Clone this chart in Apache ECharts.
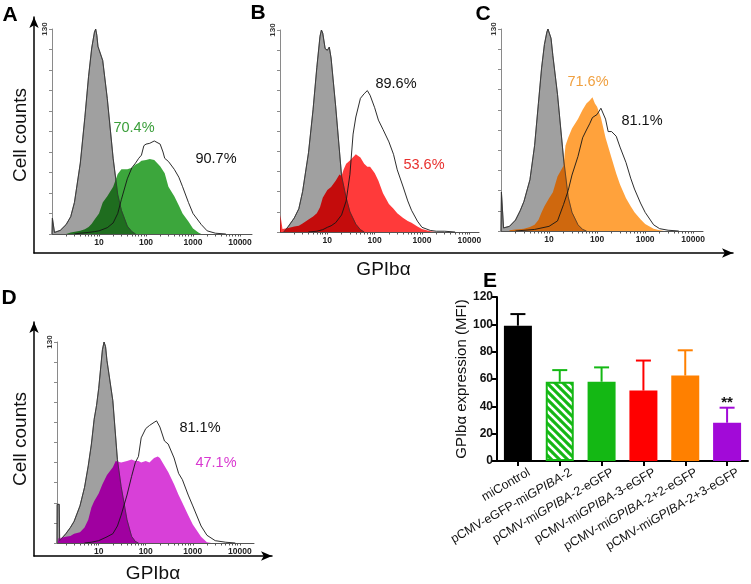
<!DOCTYPE html>
<html><head><meta charset="utf-8">
<script src="https://cdn.jsdelivr.net/npm/echarts@6/dist/echarts.min.js"></script>
<style>html,body{margin:0;padding:0;background:#fff}#c{width:751px;height:584px}</style>
</head><body><div id="c"></div>
<script>
// ---------------- DATA ----------------
// Flow cytometry histograms: [fluorescence (GPIbα), cell count]
const histA_control = [[1,0],[1.02,10],[1.1,10],[1.13,1],[1.5,2.3],[2,6],[2.5,11],[3,20],[4,45],[5,74],[6,100],[7,118],[8,128],[8.5,130],[9,126],[9.5,119],[10,117],[11,116],[12,110],[15,86],[20,48],[25,25],[30,15],[40,5],[50,1.5],[60,0]];
const histA_sample  = [[2,0],[2.5,1],[4,2],[5,3],[6,4.5],[7,6.5],[8,9],[10,13],[12,20],[15,24],[20,30],[22,31],[25,38],[30,41],[40,41],[50,42],[60,44],[70,45],[80,46.5],[100,47],[120,47.5],[150,47],[200,43],[250,38.5],[300,30],[400,24],[500,18],[600,13],[800,8],[1000,3.5],[1300,1],[1500,0]];
const histA_open    = [[3,0],[4,0.5],[6,1],[8,1.5],[10,2],[15,4],[20,7],[25,13],[30,22],[40,35],[50,42],[60,45],[70,48],[80,50],[90,56],[100,57],[120,57.5],[150,59],[200,57],[230,52],[250,48],[300,46],[400,41],[500,36],[600,30],[800,20],[1000,13],[1500,6],[2000,2],[3000,0.5],[5000,0]];

const histB_control = [[1.2,0],[1.5,3.6],[2,9],[2.5,15],[3,26],[4,51],[5,79],[6,106],[7,126],[7.5,130],[8,128],[9,118],[10,117],[11,119],[12,112],[15,81],[20,36],[25,22],[30,13],[40,5],[50,1.5],[60,0]];
const histB_sample  = [[1,0],[1.02,11],[1.1,11],[1.13,2],[1.5,2.5],[2,3.5],[2.5,4],[3,5.5],[4,8],[5,10],[6,12],[7,16],[8,22],[10,27],[12,29],[15,33],[18,37],[20,36],[22,40],[25,44],[30,46],[40,50],[50,48],[60,44],[70,42],[80,42],[100,38],[120,33],[150,25],[200,18],[250,15],[300,12],[400,9],[500,7],[600,6],[800,3.5],[1000,2],[1500,0.5],[2000,0]];
const histB_open    = [[4,0],[6,0.5],[8,1.5],[10,3],[12,4],[15,6],[20,11],[25,20],[30,37],[35,63],[40,74],[50,86],[60,89],[70,91],[80,88],[100,80],[120,72],[150,66],[200,58],[250,50],[300,40],[400,29],[500,20],[600,14],[800,7],[1000,3],[1500,1],[2000,0.5],[3000,0.5],[5000,0]];

const histC_control = [[1,0],[1.02,25],[1.1,25],[1.13,2],[1.5,3],[2,7],[2.5,13],[3,19],[4,33],[5,55],[6,82],[7,105],[8,120],[9,128],[9.5,130],[10,129],[11,124],[12,113],[15,88],[20,47],[25,22],[30,12],[40,4],[50,1],[60,0]];
const histC_sample  = [[1.5,0.5],[2,1],[3,1.5],[4,2.5],[5,4],[6,7],[7,12],[8,16],[10,21],[12,25],[15,35],[20,42],[22,55],[25,60],[30,66],[40,72],[50,78],[60,82],[70,84],[80,86],[90,82],[100,80],[120,73],[150,60],[200,47],[250,37],[300,30],[400,21],[500,16],[600,12],[800,7.5],[1000,4.5],[1500,1.5],[2000,0.5],[2500,0]];
const histC_open    = [[2,0],[5,1],[10,3],[15,6.5],[20,17],[25,26],[30,36],[40,48],[50,60],[60,65],[70,69],[80,73],[100,75],[120,79],[130,80],[150,72],[170,64],[200,64],[250,61],[300,54],[400,44],[500,34],[600,27],[800,18],[1000,12],[1500,4],[2000,1.5],[3000,0.5],[5000,0]];

const histD_control = [[1.3,0],[1.31,25],[1.45,25],[1.48,1.5],[2,6],[2.5,10],[3,14],[4,24],[5,36],[6,50],[7,64],[8,80],[9,89],[10,100],[12,125],[13,130],[14,127],[15,118],[20,92],[25,54],[30,36.5],[40,15],[50,4.3],[60,1],[70,0]];
const histD_sample  = [[1.35,0],[1.4,3],[1.5,3],[2,4],[2.5,4.5],[3,6],[4,7],[5,10],[6,15],[7,23],[8,27],[10,32],[12,38],[15,44],[20,49],[23,53],[25,52],[30,52],[40,53],[50,54],[60,53],[70,53],[80,52],[100,53],[120,52],[150,55],[180,56],[200,55],[250,50],[300,46],[400,38],[500,31],[600,26],[800,18],[1000,12],[1500,4],[2000,0.5],[2500,0]];
const histD_open    = [[5,0],[7,0.5],[10,1.5],[15,4],[20,6],[25,11],[30,18],[40,31],[50,43],[60,52],[70,56],[80,68],[100,74],[120,76],[150,78],[170,79],[200,75],[250,66],[300,64],[400,55],[500,45],[600,41],[800,31],[1000,24],[1500,11],[2000,5],[3000,1.5],[5000,0.5],[8000,0]];

const pctSample = ['70.4%', '53.6%', '71.6%', '47.1%'];
const pctOpen   = ['90.7%', '89.6%', '81.1%', '81.1%'];

// log-axis tick values / labels
const fluorTickValues  = [2,3,4,5,6,7,8,9,10,20,30,40,50,60,70,80,90,100,200,300,400,500,600,700,800,900,1000,2000,3000,4000,5000,6000,7000,8000,9000,10000];
const fluorLabelValues = [10,100,1000,10000];
const countLabelValues = [130];

// Panel E bar chart
const categories = ['miControl','pCMV-eGFP-miGPIBA-2','pCMV-miGPIBA-2-eGFP','pCMV-miGPIBA-3-eGFP','pCMV-miGPIBA-2+2-eGFP','pCMV-miGPIBA-2+3-eGFP'];
const meanMFI  = [99, 58, 58, 51.5, 62.5, 28];
const errorMFI = [8.5, 8.5, 10.5, 22, 18.5, 11];
const sigMarks = ['', '', '', '', '', '**'];
const yTicksE  = [0, 20, 40, 60, 80, 100, 120];

// ---------------- STYLE / LAYOUT ----------------
const FONT = '"Liberation Sans", Arial, Helvetica, sans-serif';
const barColors = ['#000000', '#14b814', '#14b814', '#ff0000', '#ff8000', '#a20ad8'];

const panels = [
  {grid:{left:52, top:29, width:200, height:205}, min:1,   max:18000, control:histA_control, sample:histA_sample, open:histA_open,
   fill:'#3ca63c', dark:'#1f6d1f', pctColor:'#3a9e3a', pctS:[134,128], pctO:[216,159]},
  {grid:{left:280, top:30, width:199, height:202}, min:1,  max:16000, control:histB_control, sample:histB_sample, open:histB_open,
   fill:'#ff3a3a', dark:'#c40c0c', pctColor:'#e8302e', pctS:[424,165], pctO:[396,84]},
  {grid:{left:501, top:29, width:202, height:202}, min:1,  max:16000, control:histC_control, sample:histC_sample, open:histC_open,
   fill:'#ffa23c', dark:'#cf680e', pctColor:'#f0a040', pctS:[588,82], pctO:[642,121]},
  {grid:{left:57, top:342, width:197, height:201}, min:1.3, max:20000, control:histD_control, sample:histD_sample, open:histD_open,
   fill:'#d840d8', dark:'#a000a0', pctColor:'#d838d0', pctS:[216,463], pctO:[200,428]}
];

// hatch pattern for bar 2
function hatch(color) {
  const c = document.createElement('canvas');
  c.width = 8; c.height = 8;
  const g = c.getContext('2d');
  g.fillStyle = color; g.fillRect(0,0,8,8);
  g.strokeStyle = '#ffffff'; g.lineWidth = 2.6;
  for (const d of [-8, 0, 8]) { g.beginPath(); g.moveTo(d-4, -4); g.lineTo(d+12, 12); g.stroke(); }
  return c;
}

const grids = [
  {left:34, top:17, width:699, height:236},
  {left:34, top:322, width:238, height:235}
];
const xAxes = [], yAxes = [], series = [];

function frameAxes(gi, nameGapX, nameGapY) {
  xAxes.push({gridIndex:gi, type:'value', min:0, max:1, name:'GPIbα', nameLocation:'middle', nameGap:nameGapX,
    nameTextStyle:{fontFamily:FONT, fontSize:19, color:'#111'},
    axisLine:{show:true, symbol:['none','arrow'], symbolSize:[7,11], lineStyle:{color:'#000', width:1.5}},
    axisTick:{show:false}, axisLabel:{show:false}, splitLine:{show:false}});
  yAxes.push({gridIndex:gi, type:'value', min:0, max:1, name:'Cell counts', nameLocation:'middle', nameGap:nameGapY,
    nameTextStyle:{fontFamily:FONT, fontSize:19, color:'#111'},
    axisLine:{show:true, symbol:['none','arrow'], symbolSize:[7,11], lineStyle:{color:'#000', width:1.5}},
    axisTick:{show:false}, axisLabel:{show:false}, splitLine:{show:false}});
}
frameAxes(0, 7, 4);
frameAxes(1, 8, 4);

const graphics = [];
panels.forEach((p, k) => {
  const gi = grids.length;
  grids.push(p.grid);
  xAxes.push({gridIndex:gi, type:'log', logBase:10, min:p.min, max:p.max,
    axisLine:{show:true, lineStyle:{color:'#555', width:1}},
    axisTick:{show:true, customValues:fluorTickValues, length:2.5, lineStyle:{color:'#555', width:1}},
    axisLabel:{show:true, customValues:fluorLabelValues, fontFamily:FONT, fontSize:8.5, fontWeight:'bold', color:'#222', margin:4,
      formatter: v => String(Math.round(v))},
    minorTick:{show:false}, splitLine:{show:false}});
  yAxes.push({gridIndex:gi, type:'value', min:0, max:130, interval:13,
    axisLine:{show:true, lineStyle:{color:'#8a8a8a', width:1}},
    axisTick:{show:true, length:3, lineStyle:{color:'#8a8a8a'}},
    axisLabel:{show:true, customValues:countLabelValues, rotate:90, fontFamily:FONT, fontSize:8, fontWeight:'bold', color:'#333', margin:3},
    splitLine:{show:false}});
  const base = {type:'line', xAxisIndex:gi, yAxisIndex:gi, showSymbol:false, symbol:'none', smooth:false, silent:true};
  // control (grey) histogram
  series.push(Object.assign({}, base, {data:p.control, z:1,
    lineStyle:{color:'#333', width:0.8}, areaStyle:{color:'#a0a0a0', opacity:1}}));
  // sample histogram: dark tone where it overlaps the control, light tone elsewhere
  series.push(Object.assign({}, base, {data:p.sample, z:2, blendMode:'source-atop',
    lineStyle:{opacity:0, width:0}, areaStyle:{color:p.dark, opacity:1}}));
  series.push(Object.assign({}, base, {data:p.sample, z:3, blendMode:'destination-over',
    lineStyle:{opacity:0, width:0}, areaStyle:{color:p.fill, opacity:1}}));
  // outlines
  series.push(Object.assign({}, base, {data:p.control, z:4, lineStyle:{color:'#333', width:0.7}}));
  series.push(Object.assign({}, base, {data:p.open, z:4, lineStyle:{color:'#151515', width:0.9}}));
  graphics.push({type:'text', x:p.pctS[0], y:p.pctS[1], z:10,
    style:{text:pctSample[k], fill:p.pctColor, font:'14.5px '+FONT, align:'center', verticalAlign:'middle'}});
  graphics.push({type:'text', x:p.pctO[0], y:p.pctO[1], z:10,
    style:{text:pctOpen[k], fill:'#111', font:'14.5px '+FONT, align:'center', verticalAlign:'middle'}});
});

// panel letters
[['A',10,15],['B',258,13],['C',483,14],['D',9,298],['E',490,281]].forEach(l => {
  graphics.push({type:'text', x:l[1], y:l[2], z:10,
    style:{text:l[0], fill:'#000', font:'bold 21px '+FONT, align:'center', verticalAlign:'middle'}});
});

// Panel E
const gE = grids.length;
grids.push({left:497, top:297, width:251, height:164});
xAxes.push({gridIndex:gE, type:'category', data:categories,
  axisLine:{show:true, lineStyle:{color:'#000', width:2}},
  axisTick:{show:true, alignWithLabel:true, length:5, lineStyle:{color:'#000', width:2}},
  axisLabel:{interval:0, rotate:30, fontFamily:FONT, fontSize:12.5, color:'#111', margin:17, padding:[0,-13,0,0],
    formatter: s => s.replace('GPIBA', '{i|GPIBA}'),
    rich:{i:{fontFamily:FONT, fontSize:12.5, fontStyle:'italic', color:'#111'}}},
  splitLine:{show:false}});
yAxes.push({gridIndex:gE, type:'value', min:0, max:120, interval:20,
  name:'GPIbα expression (MFI)', nameLocation:'middle', nameGap:25,
  nameTextStyle:{fontFamily:FONT, fontSize:15, color:'#111'},
  axisLine:{show:true, lineStyle:{color:'#000', width:2}},
  axisTick:{show:true, length:5, lineStyle:{color:'#000', width:2}},
  axisLabel:{customValues:yTicksE, fontFamily:FONT, fontSize:12, fontWeight:'bold', color:'#111', margin:4},
  splitLine:{show:false}});

series.push({type:'bar', xAxisIndex:gE, yAxisIndex:gE, barWidth:28, silent:true, z:2,
  data: meanMFI.map((v, i) => ({value:v, itemStyle: i === 1
    ? {color:{image:hatch(barColors[i]), repeat:'repeat'}, borderColor:barColors[i], borderWidth:2}
    : {color:barColors[i]}}))});
series.push({type:'custom', xAxisIndex:gE, yAxisIndex:gE, silent:true, z:3,
  data: meanMFI.map((m, i) => [i, m, m + errorMFI[i]]),
  renderItem: (params, api) => {
    const i = api.value(0);
    const top = api.coord([i, api.value(2)]);
    const bot = api.coord([i, api.value(1)]);
    const c = barColors[params.dataIndex];
    const half = 7.5;
    const children = [
      {type:'line', shape:{x1:top[0], y1:bot[1], x2:top[0], y2:top[1]}, style:{stroke:c, lineWidth:2}},
      {type:'line', shape:{x1:top[0]-half, y1:top[1], x2:top[0]+half, y2:top[1]}, style:{stroke:c, lineWidth:2}}
    ];
    const s = sigMarks[params.dataIndex];
    if (s) children.push({type:'text', style:{text:s, x:top[0], y:top[1]-5, align:'center', verticalAlign:'middle', font:'bold 15px '+FONT, fill:'#111'}});
    return {type:'group', children};
  }});

const chart = echarts.init(document.getElementById('c'), null, {renderer:'canvas'});
chart.setOption({
  backgroundColor:'transparent',
  animation:false,
  grid:grids, xAxis:xAxes, yAxis:yAxes, series:series, graphic:graphics
});
</script></body></html>
